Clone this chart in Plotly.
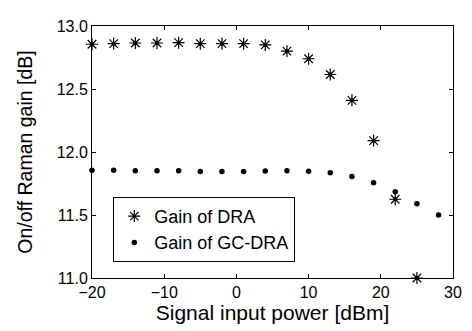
import plotly.graph_objects as go

power_dra = [-20, -17, -14, -11, -8, -5, -2, 1, 4, 7, 10, 13, 16, 19, 22, 25]
gain_dra = [12.855, 12.86, 12.865, 12.865, 12.868, 12.86, 12.86, 12.86, 12.85, 12.80,
            12.74, 12.615, 12.41, 12.09, 11.625, 11.0]

power_gc = [-20, -17, -14, -11, -8, -5, -2, 1, 4, 7, 10, 13, 16, 19, 22, 25, 28]
gain_gc = [11.855, 11.855, 11.852, 11.852, 11.852, 11.845, 11.845, 11.845, 11.85, 11.852,
           11.848, 11.835, 11.805, 11.755, 11.685, 11.59, 11.50]

x_ticks = [-20, -10, 0, 10, 20, 30]
x_tick_text = ["\u221220", "\u221210", "0", "10", "20", "30"]
y_ticks = [11.0, 11.5, 12.0, 12.5, 13.0]

FONT = "Liberation Sans, Arial, sans-serif"

fig = go.Figure()
fig.add_trace(go.Scatter(
    x=power_dra, y=gain_dra, mode="markers", name="Gain of DRA",
    marker=dict(symbol="asterisk-open", size=10, color="black",
                line=dict(color="black", width=1.2)),
    cliponaxis=False,
))
fig.add_trace(go.Scatter(
    x=power_dra, y=gain_dra, mode="markers", showlegend=False, hoverinfo="skip",
    marker=dict(symbol="circle", size=4, color="black"),
    cliponaxis=False,
))
fig.add_trace(go.Scatter(
    x=power_gc, y=gain_gc, mode="markers", name="Gain of GC-DRA",
    marker=dict(symbol="circle", size=5.5, color="black"),
    cliponaxis=False,
))

axis_common = dict(
    showgrid=False, zeroline=False, showline=True, linecolor="black", linewidth=1,
    mirror="ticks", ticks="inside", ticklen=4, tickcolor="black",
    tickfont=dict(family=FONT, size=16, color="black"),
)

# page body has an 8px default margin, so the figure is sized to compensate
fig.update_layout(
    width=464, height=323,
    margin=dict(l=84, r=10, t=10, b=53),
    paper_bgcolor="white", plot_bgcolor="white",
    font=dict(family=FONT, color="black"),
    xaxis=dict(range=[-20, 30], tickvals=x_ticks, ticktext=x_tick_text,
               title=dict(text="Signal input power [dBm]", font=dict(size=21), standoff=2),
               **axis_common),
    yaxis=dict(range=[11.0, 13.0], tickvals=y_ticks, tickformat=".1f",
               title=dict(text="On/off Raman gain [dB]", font=dict(size=19.5), standoff=18),
               **axis_common),
    legend=dict(x=0.059, y=0.322, xanchor="left", yanchor="top",
                bgcolor="white", bordercolor="black", borderwidth=1,
                font=dict(size=18, color="black"), itemwidth=30,
                tracegroupgap=0),
    showlegend=True,
)

fig.write_html("out.html")
